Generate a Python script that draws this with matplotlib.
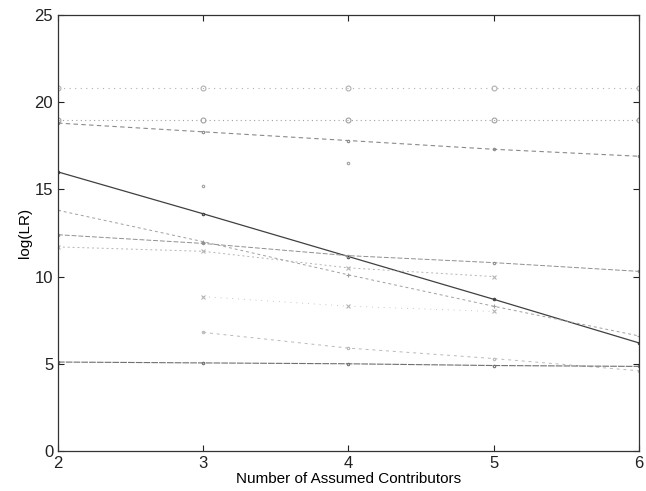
import numpy as np
import matplotlib
matplotlib.use('Agg')
import matplotlib.pyplot as plt

plt.rcParams['font.family'] = ['Liberation Sans', 'DejaVu Sans']

# log-likelihood ratios for each mixture, by number of assumed contributors
contributors = [2, 3, 4, 5, 6]
nan = np.nan
lr_a = [20.8, 20.8, 20.8, 20.8, 20.8]
lr_b = [19.0, 19.0, 19.0, 19.0, 19.0]
lr_c = [18.8, 18.3, 17.8, 17.3, 16.9]
lr_d = [16.0, 13.6, 11.15, 8.7, 6.2]
lr_e = [13.8, 12.0, 10.1, 8.3, 6.6]
lr_f = [12.4, 11.9, 11.2, 10.8, 10.3]
lr_g = [11.7, 11.45, 10.5, 10.0, nan]
lr_h = [nan, 6.8, 5.9, 5.3, 4.6]
lr_i = [5.1, 5.05, 5.0, 4.9, 4.85]
lr_j = [nan, 8.85, 8.3, 8.0, nan]
lr_k = [nan, 15.2, 16.5, nan, nan]

series = [
    (lr_a, '#b0b0b0', (0, (1, 4)), 'o', 0.8),
    (lr_b, '#a0a0a0', (0, (1, 3)), 'o', 0.8),
    (lr_c, '#8a8a8a', (0, (4, 3)), '.', 0.8),
    (lr_d, '#404040', '-', '.', 0.9),
    (lr_e, '#a0a0a0', (0, (3, 3)), '+', 0.7),
    (lr_f, '#909090', (0, (5, 2)), '.', 0.7),
    (lr_g, '#b4b4b4', (0, (2, 3)), 'x', 0.7),
    (lr_h, '#b8b8b8', (0, (3, 4)), '.', 0.7),
    (lr_i, '#707070', (0, (6, 1)), '.', 0.8),
    (lr_j, '#b4b4b4', (0, (1, 6)), 'x', 0.6),
    (lr_k, '#a0a0a0', 'none', '.', 0.6),
]

fig = plt.figure(figsize=(6.46, 4.91), dpi=100)
ax = fig.add_axes([0.0898, 0.0815, 0.899, 0.888])

for vals, col, ls, mk, lw in series:
    ax.plot(contributors, vals, color=col, linestyle=ls, linewidth=lw,
            marker=mk, markersize=3.5, markerfacecolor='none',
            markeredgecolor=col, markeredgewidth=0.8)

ax.set_xlim(2, 6)
ax.set_ylim(0, 25)
ax.set_xticks([2, 3, 4, 5, 6])
ax.set_yticks([0, 5, 10, 15, 20, 25])
ax.tick_params(direction='in', length=4, width=0.8, labelsize=12,
               colors='#222222', top=True, right=True)
for sp in ax.spines.values():
    sp.set_color('#333333')
    sp.set_linewidth(0.9)

ax.set_xlabel('Number of Assumed Contributors', fontsize=11, labelpad=1)
ax.set_ylabel('log(LR)', fontsize=11, labelpad=2)

fig.savefig('out.png', dpi=100, facecolor='white')
